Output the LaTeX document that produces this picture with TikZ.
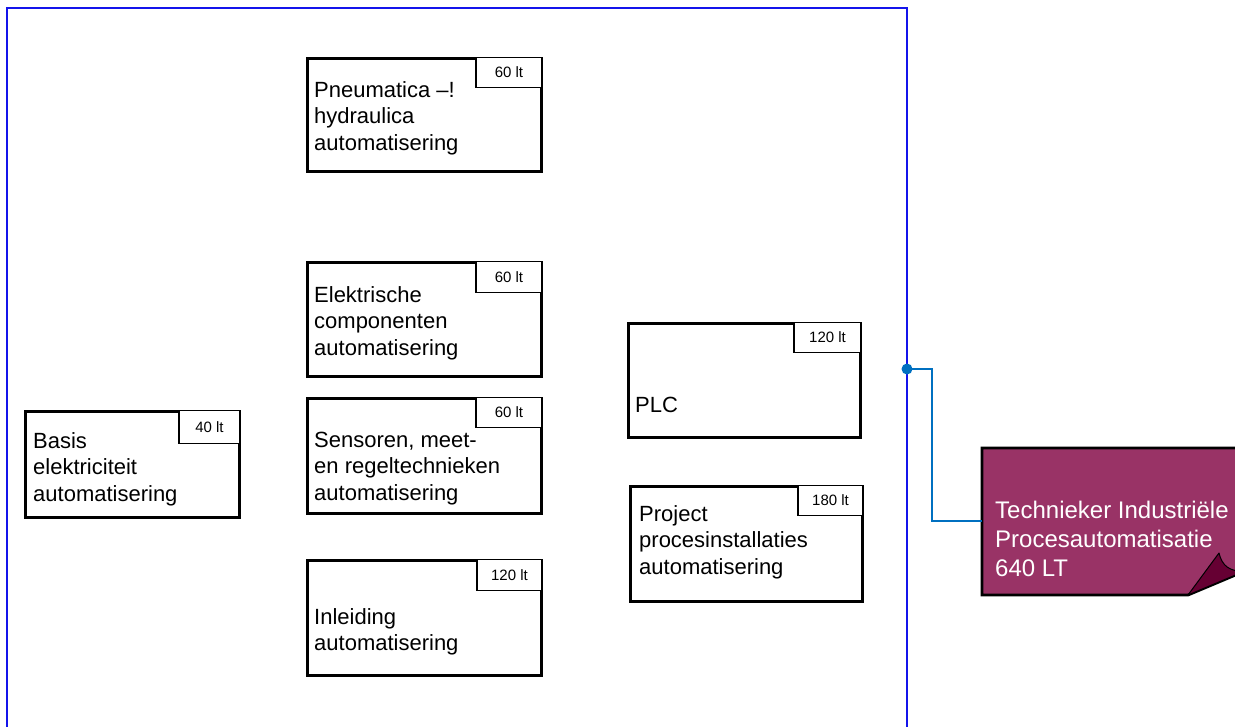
\documentclass[tikz,border=0pt]{standalone}
\usepackage{fontspec}
\setmainfont{Liberation Sans}
\definecolor{notefill}{RGB}{153,51,102}
\definecolor{flapfill}{RGB}{102,0,51}
\definecolor{connblue}{RGB}{0,112,192}
\definecolor{frameblue}{RGB}{20,20,235}
\tikzset{
  course/.style={draw=black, line width=2.6pt, fill=white, anchor=north west, inner sep=0pt},
  hours/.style={draw=black, line width=1.2pt, fill=white, anchor=north east, inner sep=0pt,
    minimum height=30pt, font=\fontsize{15}{17}\selectfont},
  ctext/.style={anchor=base west, inner sep=0pt, font=\fontsize{22}{26.5}\selectfont},
  ntext/.style={anchor=base west, inner sep=0pt, text=white, font=\fontsize{24}{29}\selectfont},
  framepath/.style={draw=frameblue, line width=1.2pt},
  connector/.style={draw=connblue, line width=2pt},
}
\newcommand{\lines}[1]{\begin{tabular}[t]{@{}l@{}}#1\end{tabular}}
\begin{document}
\begin{tikzpicture}[x=1pt,y=-1pt]
\clip (0,0) rectangle (1235,726);
\fill[white] (0,0) rectangle (1235,726);

% blue frame
\draw[framepath] (7,740) -- (7,8) -- (907,8) -- (907,740);

% courses
\node[course, minimum width=234pt, minimum height=113pt] (pneu) at (306,57) {};
\node[hours, minimum width=66pt] (pneuH) at (pneu.north east) {60 lt};
\node[ctext] (pneuT) at (314,97) {\lines{Pneumatica --!\\hydraulica\\automatisering}};

\node[course, minimum width=234pt, minimum height=114pt] (elek) at (306,261) {};
\node[hours, minimum width=66pt, minimum height=31pt] (elekH) at (elek.north east) {60 lt};
\node[ctext] (elekT) at (314,302) {\lines{Elektrische\\componenten\\automatisering}};

\node[course, minimum width=234pt, minimum height=115pt] (sens) at (306,397) {};
\node[hours, minimum width=66pt] (sensH) at (sens.north east) {60 lt};
\node[ctext] (sensT) at (314,447) {\lines{Sensoren, meet-\\en regeltechnieken\\automatisering}};

\node[course, minimum width=234pt, minimum height=115pt] (inl) at (306,559) {};
\node[hours, minimum width=65pt, minimum height=31pt] (inlH) at (inl.north east) {120 lt};
\node[ctext] (inlT) at (314,624) {\lines{Inleiding\\automatisering}};

\node[course, minimum width=214pt, minimum height=106pt] (basis) at (24,410) {};
\node[hours, minimum width=61pt, minimum height=33pt] (basisH) at (basis.north east) {40 lt};
\node[ctext] (basisT) at (33,448) {\lines{Basis\\elektriciteit\\automatisering}};

\node[course, minimum width=232pt, minimum height=114pt] (plc) at (627,322) {};
\node[hours, minimum width=67pt] (plcH) at (plc.north east) {120 lt};
\node[ctext] (plcT) at (635,412) {PLC};

\node[course, minimum width=232pt, minimum height=115pt] (proj) at (629,485) {};
\node[hours, minimum width=65pt] (projH) at (proj.north east) {180 lt};
\node[ctext] (projT) at (639,521) {\lines{Project\\procesinstallaties\\automatisering}};

% sticky note
\draw[black, line width=2.8pt, fill=notefill, line join=miter]
  (982,448) -- (1245,448) -- (1245,571) -- (1188,595) -- (982,595) -- cycle;
\draw[black, line width=1pt, fill=flapfill, line join=round]
  (1188,595) -- (1219,553) .. controls (1222,566) and (1230,572) .. (1245,571) -- cycle;
\node[ntext] (note) at (995,518) {\fontsize{24}{29}\selectfont\lines{Technieker Industriële\\Procesautomatisatie\\640 LT}};
\coordinate (noteW) at (982,521);

% connector
\node[circle, fill=connblue, inner sep=0pt, minimum size=11pt] (dot) at (907,369) {};
\draw[connector] (dot.center) -- ++(25,0) |- (noteW);
\end{tikzpicture}
\end{document}
